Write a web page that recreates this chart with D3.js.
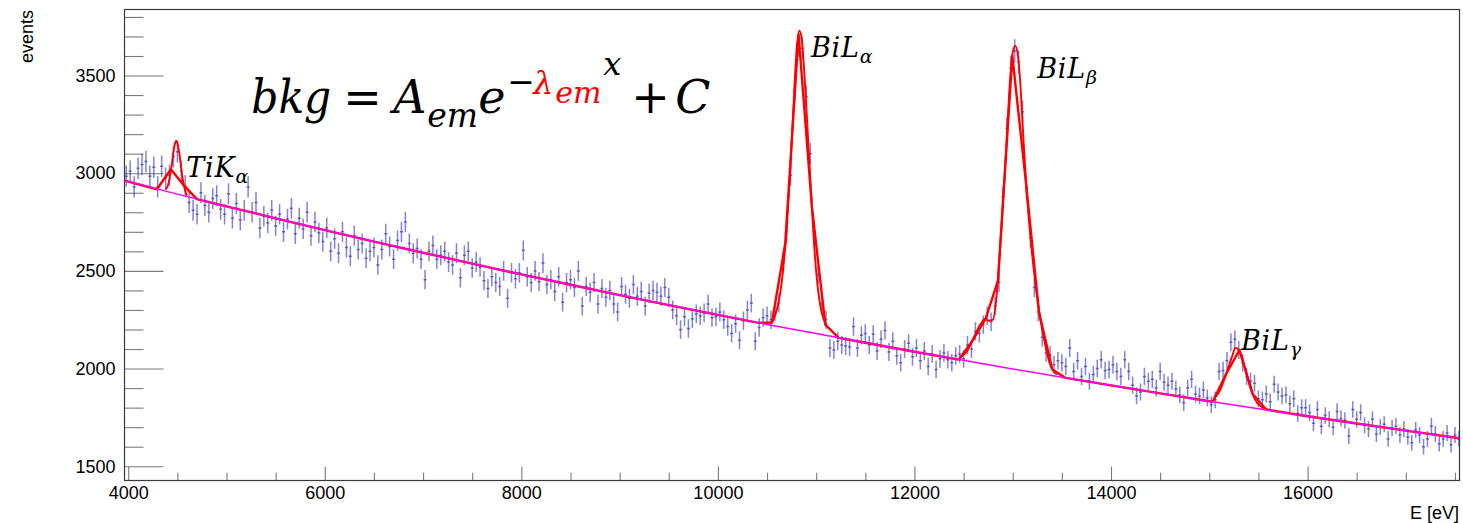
<!DOCTYPE html>
<html><head><meta charset="utf-8">
<script src="https://cdn.jsdelivr.net/npm/d3@7"></script>
<style>html,body{margin:0;padding:0;background:#fff;} svg{display:block;}</style>
</head><body>
<svg id="chart" width="1463" height="523"></svg>
<script>
// ---- histogram binning ----
const binLow = 3960;
const binWidth = 40;
// ---- counts per 40 eV bin (3960 .. 17560 eV) ----
const counts = [
  2985,3010,2930,3025,3045,3060,2985,3030,2930,3035,2975,2990,3085,3110,3010,2935,2850,2810,2790,2900,2835,2800,2870,2885,2815,
  2790,2895,2770,2845,2760,2810,2930,2800,2850,2720,2780,2745,2810,2730,2790,2700,2765,2820,2690,2770,2715,2800,2680,2750,2695,
  2650,2720,2600,2665,2590,2700,2620,2575,2680,2610,2640,2565,2600,2620,2530,2610,2690,2625,2560,2655,2700,2750,2640,2590,2615,
  2560,2455,2600,2630,2560,2580,2600,2545,2530,2590,2465,2580,2600,2515,2545,2520,2450,2410,2470,2440,2420,2500,2360,2490,2460,
  2490,2605,2470,2440,2500,2445,2540,2430,2455,2395,2470,2340,2440,2455,2415,2500,2320,2420,2390,2440,2330,2410,2365,2400,2330,
  2290,2420,2380,2360,2430,2370,2395,2320,2385,2400,2390,2370,2415,2365,2300,2270,2200,2265,2205,2255,2280,2270,2285,2330,2260,
  2265,2290,2250,2215,2180,2230,2145,2245,2300,2335,2140,2210,2260,2270,2250,2290,2335,2540,2700,2990,3420,3656,3640,3392,3100,
  2700,2480,2330,2250,2105,2095,2140,2120,2115,2110,2215,2105,2170,2180,2120,2175,2090,2150,2195,2085,2140,2065,2030,2100,2130,
  2060,2105,2040,2090,2010,2075,1995,2050,2080,2045,2030,2065,2075,2050,2120,2100,2190,2180,2225,2270,2240,2320,2440,2880,3230,
  3540,3625,3570,3315,2925,2670,2415,2290,2160,2080,2070,2020,2040,2030,2010,2105,1985,2040,1960,2010,1935,1970,2000,2045,1990,
  1995,2020,1985,1960,2045,1985,1915,1860,1880,1960,1935,1945,1900,1985,1930,1915,1935,1895,1865,1825,1900,1945,1870,1860,1890,
  1850,1815,1840,1985,1990,2040,2135,2150,2095,2030,1960,1935,1925,1845,1840,1870,1830,1920,1880,1860,1865,1820,1845,1770,1800,
  1800,1775,1720,1790,1705,1760,1740,1700,1780,1745,1735,1655,1790,1740,1775,1710,1690,1740,1665,1700,1715,1640,1695,1705,1660,
  1690,1650,1620,1685,1660,1600,1640,1705,1665,1615,1640,1670,1610,1660,1640
];
// ---- background fit (magenta), [E, counts] ----
const bkgFit = [[3962,2962],[4500,2893],[5000,2830],[5500,2769],[6000,2709],[6500,2650],[7000,2593],[7500,2537],
  [8000,2482],[8500,2429],[9000,2376],[9500,2325],[10000,2275],[10500,2226],[11000,2179],[11500,2132],[12000,2086],
  [12500,2042],[13000,1998],[13500,1955],[14000,1914],[14500,1873],[15000,1833],[15500,1794],[16000,1756],[16500,1719],
  [17000,1682],[17546,1643]];
// ---- total fit, coarse sampling (red) ----
const totalFit = [[3962,2962],[4292,2918],[4434,3020],[4570,2935],[4699,2867],[5000,2830],[5500,2769],[6000,2709],
  [6500,2650],[7000,2593],[7500,2537],[8000,2482],[8500,2429],[9000,2376],[9500,2325],[10000,2275],[10414,2234],
  [10550,2236],[10685,2640],[10821,3710],[10957,2826],[11093,2225],[11229,2157],[11500,2132],[12000,2086],[12452,2046],
  [12588,2140],[12724,2255],[12850,2450],[12996,3600],[13132,2965],[13267,2290],[13403,1995],[13539,1952],[14000,1914],
  [14500,1873],[15034,1830],[15170,1971],[15306,2094],[15442,1870],[15578,1790],[16000,1756],[16500,1719],[17000,1682],
  [17546,1643]];
// ---- single-peak fits (red) ----
const fitTiKa = [[4376,2916],[4400,2933],[4420,2971],[4440,3034],[4460,3109],[4480,3159],[4490,3166],[4500,3156],
  [4520,3101],[4540,3021],[4560,2954],[4580,2910],[4597,2885]];
const fitBiLa = [[10550,2236],[10600,2301],[10634,2386],[10667,2522],[10702,2727],[10736,3017],[10769,3340],[10803,3647],
  [10830,3729],[10854,3681],[10888,3443],[10922,3136],[10956,2829],[10990,2557],[11023,2386],[11057,2284],[11108,2219]];
const fitBiLb = [[12466,2057],[12533,2088],[12601,2156],[12669,2224],[12720,2255],[12753,2245],[12799,2250],[12840,2395],
  [12872,2617],[12906,2889],[12941,3196],[12974,3486],[13001,3622],[13025,3652],[13052,3605],[13076,3468],[13103,3230],
  [13137,2940],[13178,2685],[13228,2446],[13279,2259],[13330,2122],[13381,2020],[13449,1969]];
const fitBiLg = [[15043,1841],[15113,1892],[15181,1986],[15232,2062],[15266,2105],[15300,2097],[15335,2054],[15385,1960],
  [15436,1875],[15487,1824],[15554,1798],[15603,1790]];
// ---- ticks & labels ----
const xMajorTicks = [4000,6000,8000,10000,12000,14000,16000];
const yMajorTicks = [1500,2000,2500,3000,3500];
const peakNames = ["TiK","BiL","BiL","BiL"];
const peakSubs = ["α","α","β","γ"];
const peakLabelAt = [[4600,2981],[10957,3596],[13259,3486],[15332,2097]];
const xTitle = "E [eV]";
const yTitle = "events";

const svg = d3.select("#chart");
const L = 124.5, R = 1459.5, T = 9.5, B = 480.5;
const x = d3.scaleLinear().domain([3962, 17546]).range([L, R]);
const y = d3.scaleLinear().domain([1427, 3838]).range([B, T]);
const sansFont = "'Liberation Sans', Arial, Helvetica, sans-serif";
const serifFont = "'DejaVu Serif', serif";

svg.append("defs").append("clipPath").attr("id","plotclip")
  .append("rect").attr("x",L).attr("y",T).attr("width",R-L).attr("height",B-T);

// axes
const xMinor = d3.range(4500, 17550, 500).filter(v => !xMajorTicks.includes(v));
const yMinor = d3.range(1500, 3840, 100).filter(v => !yMajorTicks.includes(v));
function styleAxis(g){
  g.select(".domain").remove();
  g.selectAll(".tick line").attr("stroke","#7a7a7a").attr("stroke-width",1.1);
  g.attr("font-family", sansFont).attr("font-size", 18);
  g.selectAll(".tick text").attr("fill","#000");
}
svg.append("g").attr("transform",`translate(${L},0)`)
  .call(d3.axisLeft(y).tickValues(yMinor).tickSize(-19).tickFormat(""))
  .call(styleAxis);
svg.append("g").attr("transform",`translate(${L},0)`)
  .call(d3.axisLeft(y).tickValues(yMajorTicks).tickSize(-39).tickPadding(9).tickFormat(d3.format("d")))
  .call(styleAxis);
svg.append("g").attr("transform",`translate(0,${B})`)
  .call(d3.axisBottom(x).tickValues(xMinor).tickSize(-7.7).tickFormat(""))
  .call(styleAxis);
svg.append("g").attr("transform",`translate(0,${B})`)
  .call(d3.axisBottom(x).tickValues(xMajorTicks).tickSize(-14).tickPadding(6).tickFormat(d3.format("d")))
  .call(styleAxis);

svg.append("rect").attr("x",L).attr("y",T).attr("width",R-L).attr("height",B-T)
  .attr("fill","none").attr("stroke","#3a3a3a").attr("stroke-width",1.2);

// axis titles
svg.append("text").attr("x",1459).attr("y",519).attr("text-anchor","end")
  .attr("font-family",sansFont).attr("font-size",18).text(xTitle);
svg.append("text").attr("transform","translate(32.5,10) rotate(-90)").attr("text-anchor","end")
  .attr("font-family",sansFont).attr("font-size",18).text(yTitle);

// data with error bars
const plot = svg.append("g").attr("clip-path","url(#plotclip)");
const pts = counts.map((c,i) => ({e: binLow + binWidth*(i+0.5), c}));
const errColor = "rgba(30,30,185,0.55)";
const dg = plot.append("g");
dg.selectAll("line.v").data(pts).join("line").attr("class","v")
  .attr("x1",d=>x(d.e)).attr("x2",d=>x(d.e))
  .attr("y1",d=>y(d.c-Math.sqrt(d.c))).attr("y2",d=>y(d.c+Math.sqrt(d.c)))
  .attr("stroke",errColor).attr("stroke-width",1.5);
dg.selectAll("line.h").data(pts).join("line").attr("class","h")
  .attr("x1",d=>x(d.e)-1.6).attr("x2",d=>x(d.e)+1.6)
  .attr("y1",d=>y(d.c)).attr("y2",d=>y(d.c))
  .attr("stroke",errColor).attr("stroke-width",1.5);

// fits
const lin = d3.line().x(d=>x(d[0])).y(d=>y(d[1]));
const smooth = d3.line().x(d=>x(d[0])).y(d=>y(d[1])).curve(d3.curveMonotoneX);
plot.append("path").attr("d",lin(totalFit)).attr("fill","none").attr("stroke","#ff0000").attr("stroke-width",2.4).attr("stroke-linejoin","round");
[fitTiKa, fitBiLa, fitBiLb, fitBiLg].forEach(f => {
  plot.append("path").attr("d",smooth(f)).attr("fill","none").attr("stroke","#ff0000").attr("stroke-width",1.9).attr("stroke-linejoin","round");
});
plot.append("path").attr("d",lin(bkgFit)).attr("fill","none").attr("stroke","#ff00ff").attr("stroke-width",1.5);

// peak labels
peakNames.forEach((n,i) => {
  const t = svg.append("text").attr("x",x(peakLabelAt[i][0])-1).attr("y",y(peakLabelAt[i][1]))
    .attr("font-family",serifFont).attr("font-style","italic").attr("font-size",27).attr("fill","#000");
  t.append("tspan").attr("letter-spacing",0.8).text(n);
  t.append("tspan").attr("dy",6).attr("font-size",19).text(peakSubs[i]);
});

// formula annotation
const fx = x(5252), fy = y(3308);
const parts = [
  {t:"bkg", dx:0, dy:0, s:46, it:true, c:"#000", w:80},
  {t:"=", dx:92, dy:0, s:46, it:false, c:"#000"},
  {t:"A", dx:142, dy:0, s:46, it:true, c:"#000"},
  {t:"em", dx:176, dy:14, s:33, it:true, c:"#000"},
  {t:"e", dx:227, dy:0, s:46, it:true, c:"#000"},
  {t:"−", dx:256, dy:-20, s:33, it:false, c:"#000"},
  {t:"λ", dx:282, dy:-19, s:32, it:true, c:"#ff0000"},
  {t:"em", dx:304, dy:-10, s:30, it:true, c:"#ff0000"},
  {t:"x", dx:352, dy:-38, s:32, it:true, c:"#000"},
  {t:"+", dx:380, dy:0, s:46, it:false, c:"#000"},
  {t:"C", dx:424, dy:0, s:46, it:true, c:"#000"}
];
const fg = svg.append("g");
parts.forEach(p => {
  const t = fg.append("text").attr("x",fx+p.dx).attr("y",fy+p.dy).attr("font-family",serifFont)
    .attr("font-style",p.it?"italic":"normal").attr("font-size",p.s).attr("fill",p.c).text(p.t);
  if (p.w) t.attr("textLength",p.w).attr("lengthAdjust","spacingAndGlyphs");
});
</script>
</body></html>
